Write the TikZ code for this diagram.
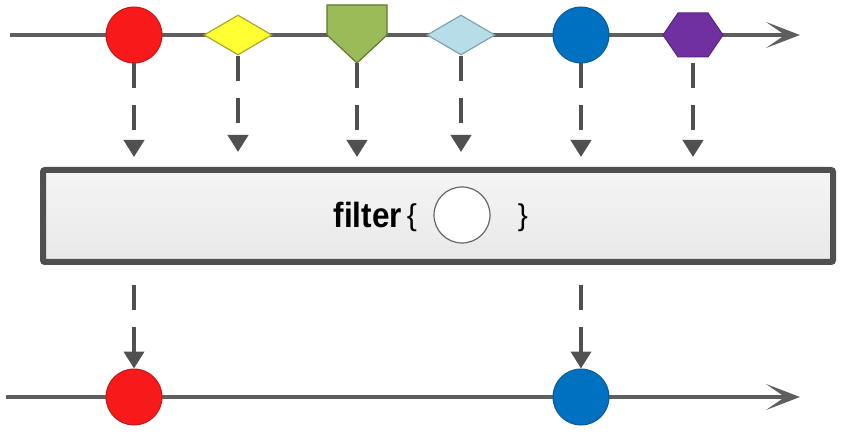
\documentclass[tikz,border=0pt]{standalone}
\usepackage{fontspec}
\setmainfont{Liberation Sans}
\newfontfamily\lab[FakeStretch=0.9]{Liberation Sans}
\usetikzlibrary{arrows.meta,shapes.geometric}
\definecolor{linegray}{HTML}{5E5E5E}
\definecolor{dgray}{HTML}{505050}
\definecolor{mred}{HTML}{F81A1A}
\definecolor{mredb}{HTML}{C01818}
\definecolor{myel}{HTML}{FFFF33}
\definecolor{myelb}{HTML}{A8A830}
\definecolor{mgreen}{HTML}{9BBB59}
\definecolor{mgreenb}{HTML}{5F7A30}
\definecolor{mlblue}{HTML}{B7DEE8}
\definecolor{mlblueb}{HTML}{7FA3B0}
\definecolor{mblue}{HTML}{0070C0}
\definecolor{mblueb}{HTML}{0A5A96}
\definecolor{mpurp}{HTML}{7030A0}
\definecolor{mpurpb}{HTML}{5A2585}
\begin{document}
\begin{tikzpicture}[x=1pt,y=-1pt,
  timeline/.style={draw=linegray,line width=4pt,-{Stealth[length=34pt 0,width=26pt 0,inset=19pt 0]}},
  marble/.style={circle,minimum size=56pt,inner sep=0pt,line width=1pt},
  dia/.style={diamond,minimum width=68pt,minimum height=40pt,inner sep=0pt,line width=1.2pt},
  emit/.style={draw=dgray,line width=4pt,dash pattern=on 25pt off 17pt,-{Triangle[length=17pt 0,width=20pt 0]}},
]
\useasboundingbox (0,0) rectangle (859,446);
% top timeline
\coordinate (t0) at (10,35);
\coordinate (t1) at (800,35);
\draw[timeline] (t0) -- (t1);
% bottom timeline
\coordinate (b0) at (6,397);
\coordinate (b1) at (800,397);
\draw[timeline] (b0) -- (b1);
% top marbles
\node[marble,fill=mred,draw=mredb] (r1) at (134,35) {};
\node[dia,fill=myel,draw=myelb] (y1) at (238,35) {};
\draw[fill=mgreen,draw=mgreenb,line width=1.2pt] (327,5) -- (387,5) -- (387,35) -- (357,63) -- (327,35) -- cycle;
\coordinate (g1) at (357,63);
\node[dia,fill=mlblue,draw=mlblueb] (lb1) at (461,35) {};
\node[marble,fill=mblue,draw=mblueb] (bl1) at (581,35) {};
\draw[fill=mpurp,draw=mpurpb,line width=1pt] (663,35) -- (678,13) -- (708,13) -- (723,35) -- (708,57) -- (678,57) -- cycle;
\coordinate (p1) at (693,63);
% arrow targets
\coordinate (ar) at (134,157);
\coordinate (ay) at (238,152);
\coordinate (ag) at (357,157);
\coordinate (alb) at (461,152);
\coordinate (abl) at (581,157);
\coordinate (ap) at (693,157);
\draw[emit] (r1.south) -- (ar);
\draw[emit] (y1.south) -- (ay);
\draw[emit] (g1) -- (ag);
\draw[emit] (lb1.south) -- (alb);
\draw[emit] (bl1.south) -- (abl);
\draw[emit] (p1) -- (ap);
% filter box
\node[draw=dgray,line width=6pt,rounded corners=2pt,top color=white!96!black,bottom color=white!91!black,
  minimum width=790pt,minimum height=92pt,inner sep=0pt] (box) at (438,216) {};
\node[anchor=base east,inner sep=0pt,font=\lab\bfseries\fontsize{35}{35}\selectfont] (ftxt) at (402,228) {filter};
\node[anchor=base,inner sep=0pt,font=\fontsize{30}{30}\selectfont] (lbr) at (412,226) {\{};
\node[circle,minimum size=56pt,inner sep=0pt,fill=white,draw=gray!80!black,line width=1.2pt] (pred) at (462,215) {};
\node[anchor=base,inner sep=0pt,font=\fontsize{30}{30}\selectfont] (rbr) at (523,226) {\}};
% bottom marbles
\node[marble,fill=mred,draw=mredb] (r2) at (134,397) {};
\node[marble,fill=mblue,draw=mblueb] (bl2) at (581,397) {};
\coordinate (sr) at (134,285);
\coordinate (sb) at (581,285);
\draw[emit] (sr) -- (r2.north);
\draw[emit] (sb) -- (bl2.north);
\end{tikzpicture}
\end{document}
